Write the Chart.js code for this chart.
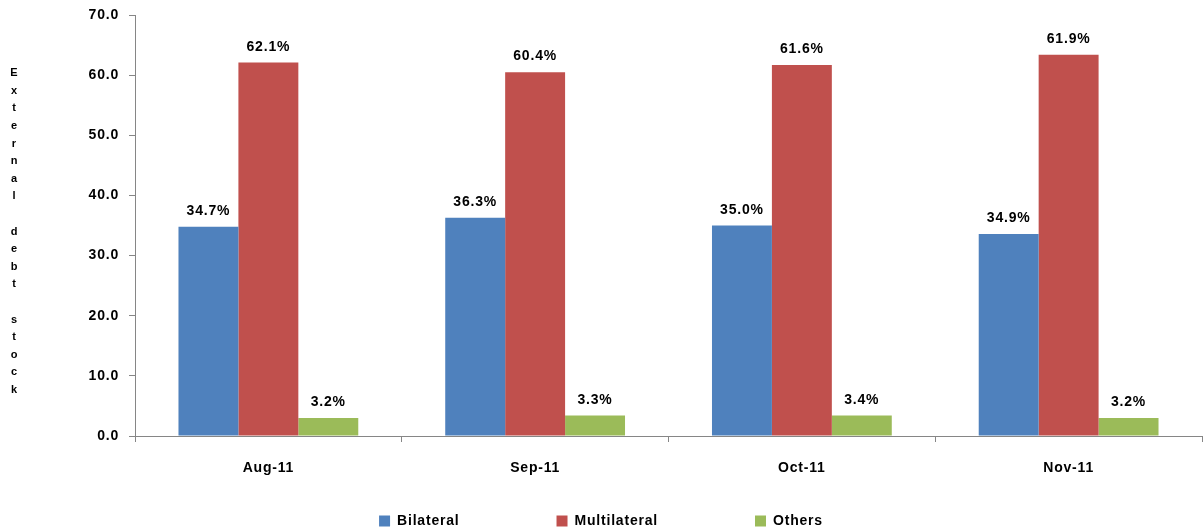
<!DOCTYPE html>
<html>
<head>
<meta charset="utf-8">
<script src="https://cdn.jsdelivr.net/npm/chart.js@4.4.1/dist/chart.umd.min.js"></script>
<style>
    html, body { margin: 0; padding: 0; background: #fff; }
    #contenedor { width: 1204px; height: 531px; position: relative; }
</style>
</head>
<body>
<div id="contenedor"><canvas id="chartDeuda"></canvas></div>
<script>
// Datos
const meses = ['Aug-11', 'Sep-11', 'Oct-11', 'Nov-11'];
const bilateral = [34.8, 36.3, 35.0, 33.6];
const multilateral = [62.1, 60.5, 61.7, 63.4];
const otros = [3.0, 3.4, 3.4, 3.0];

// Textos que aparecen encima de cada barra
const etiquetasBilateral = ['34.7%', '36.3%', '35.0%', '34.9%'];
const etiquetasMultilateral = ['62.1%', '60.4%', '61.6%', '61.9%'];
const etiquetasOtros = ['3.2%', '3.3%', '3.4%', '3.2%'];

const tituloY = 'External debt stock';
const nombresSeries = ['Bilateral', 'Multilateral', 'Others'];

const fuente = "'Liberation Sans', Arial, sans-serif";
const espaciado = '0.8px';
const gris = '#868686';

const canvas = document.getElementById('chartDeuda');
const ctx = canvas.getContext('2d');

// Espaciado entre letras (el canvas lo pierde al redimensionar)
const ponerEspaciado = (chart) => { chart.ctx.letterSpacing = espaciado; };

const espacioLetras = {
    id: 'espacioLetras',
    beforeUpdate: ponerEspaciado,
    beforeLayout: ponerEspaciado,
    beforeDraw: ponerEspaciado
};

// Leyenda: separación horizontal grande pero poca altura
const leyendaCompacta = {
    id: 'leyendaCompacta',
    beforeLayout(chart) {
        const lg = chart.legend;
        if (lg && !lg._parcheado) {
            const fitOriginal = lg.fit;
            lg.fit = function () {
                fitOriginal.call(this);
                this.height = 30;
            };
            lg._parcheado = true;
        }
    },
    afterLayout(chart) {
        const lg = chart.legend;
        const pad = lg.options.labels.padding;
        const alto = Math.max(lg.options.labels.font.size, lg.options.labels.boxHeight);
        lg.top = lg.bottom - 10 - alto / 2 - pad;
    }
};

// Porcentajes encima de las barras
const etiquetas = [etiquetasBilateral, etiquetasMultilateral, etiquetasOtros];
const etiquetasBarras = {
    id: 'etiquetasBarras',
    afterDatasetsDraw(chart) {
        const c = chart.ctx;
        c.save();
        c.font = 'bold 14px ' + fuente;
        c.fillStyle = '#000';
        c.textAlign = 'center';
        c.textBaseline = 'alphabetic';
        chart.data.datasets.forEach((ds, i) => {
            chart.getDatasetMeta(i).data.forEach((barra, j) => {
                c.fillText(etiquetas[i][j], barra.x, barra.y - 12);
            });
        });
        c.restore();
    }
};

// Título del eje Y escrito letra por letra en vertical
const tituloVertical = {
    id: 'tituloVertical',
    afterDraw(chart) {
        const c = chart.ctx;
        const area = chart.chartArea;
        const paso = 17.6;
        const letras = tituloY.split('');
        const inicio = (area.top + area.bottom) / 2 + 6 - paso * (letras.length - 1) / 2;
        c.save();
        c.letterSpacing = '0px';
        c.font = 'bold 11px ' + fuente;
        c.fillStyle = '#000';
        c.textAlign = 'center';
        c.textBaseline = 'middle';
        letras.forEach((l, k) => c.fillText(l, 14, inicio + k * paso));
        c.restore();
    }
};

const chartDeuda = new Chart(ctx, {
    type: 'bar',
    data: {
        labels: meses,
        datasets: [
            { label: nombresSeries[0], data: bilateral, backgroundColor: '#4F81BD' },
            { label: nombresSeries[1], data: multilateral, backgroundColor: '#C0504D' },
            { label: nombresSeries[2], data: otros, backgroundColor: '#9BBB59' }
        ]
    },
    options: {
        responsive: true,
        maintainAspectRatio: false,
        animation: false,
        devicePixelRatio: 1,
        layout: { padding: { top: 15, right: 2, left: 0, bottom: 0 } },
        datasets: {
            bar: { categoryPercentage: 0.674, barPercentage: 1.0, borderWidth: 0 }
        },
        scales: {
            x: {
                grid: { drawOnChartArea: false, color: gris, tickLength: 6, offset: true },
                border: { color: gris, width: 1 },
                ticks: { color: '#000', padding: 18, font: { family: fuente, size: 14, weight: 'bold' } },
                afterFit(scale) { scale.height = 65; }
            },
            y: {
                min: 0,
                max: 70,
                grid: { drawOnChartArea: false, color: gris, tickLength: 6 },
                border: { color: gris, width: 1 },
                ticks: {
                    stepSize: 10,
                    color: '#000',
                    padding: 10,
                    font: { family: fuente, size: 14, weight: 'bold' },
                    callback: (v) => v.toFixed(1)
                },
                afterFit(scale) {
                    scale.width = 135;
                    scale.paddingTop = 0;
                    scale.paddingBottom = 0;
                }
            }
        },
        plugins: {
            legend: {
                position: 'bottom',
                labels: {
                    boxWidth: 11,
                    boxHeight: 11,
                    padding: 97,
                    color: '#000',
                    font: { family: fuente, size: 14, weight: 'bold' }
                }
            },
            tooltip: { enabled: false }
        }
    },
    plugins: [espacioLetras, leyendaCompacta, etiquetasBarras, tituloVertical]
});
</script>
</body>
</html>
